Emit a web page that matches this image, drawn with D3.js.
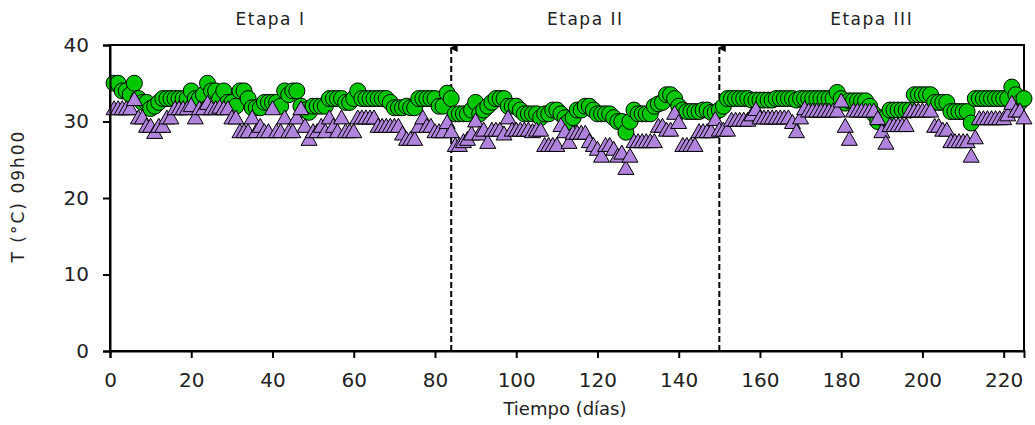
<!DOCTYPE html>
<html>
<head>
<meta charset="utf-8">
<script src="https://cdn.jsdelivr.net/npm/d3@7"></script>
<style>
  body { margin: 0; background: #fff; }
  svg text { fill: #222; }
</style>
</head>
<body>
<div class="chart"></div>
<script>
// temperatura a las 09h00, un valor por dia (dia 1 ... 225)
var serieVerde = [
  35, 35, 34, 34, 33.5, 35, 33, 32.5, 32.5, 31.7,
  32, 32.5, 33, 33, 33, 33, 33, 33, 33, 34,
  33, 33, 33.5, 35, 34, 34, 33, 34, 32.5, 32.5,
  32, 34, 34, 33, 31.8, 31.8, 31.8, 32.5, 32.5, 32.5,
  32.5, 32, 34, 33.5, 34, 34, 32, 31.5, 31.2, 32,
  32, 32, 32, 33, 33, 33, 33, 32.5, 32.5, 33,
  34, 33, 33, 33, 33, 33, 33, 33, 32.5, 31.8,
  31.8, 31.8, 32, 31.8, 31.8, 33, 33, 33, 33, 33,
  32, 32, 33.7, 33, 31, 31, 31, 31, 31.5, 32.5,
  31, 31.5, 32, 32.5, 33, 33, 33, 32, 32, 32,
  31.5, 31, 31, 31, 31, 30.5, 31, 31, 31.5, 31.5,
  31, 30.5, 30, 30.5, 31.5, 31.5, 32, 32, 31.5, 31,
  31, 31, 31, 30.5, 30, 30, 28.6, 30, 31.5, 31,
  31, 31, 31, 32, 32.3, 32.5, 33.5, 33.5, 33, 32,
  31.5, 31.3, 31.3, 31.3, 31.3, 31.5, 31.5, 31.2, 31.2, 31.5,
  32, 33, 33, 33, 33, 33, 33, 32.8, 32.8, 32.8,
  32.8, 32.8, 32.8, 33, 33, 33, 33, 33, 32.8, 33,
  33, 33, 33, 33, 33, 33, 33, 33, 33.8, 33,
  32.4, 32.7, 32.7, 32.7, 32.7, 32.7, 32, 31, 30, 30.5,
  30.5, 31.5, 31.5, 31.5, 31.5, 31.5, 31.5, 33.5, 33.5, 33.5,
  33.5, 33.5, 32.5, 32.5, 32.5, 32.5, 31.3, 31.3, 31.3, 31.3,
  31.3, 29.8, 33, 33, 33, 33, 33, 33, 33, 33,
  33, 34.5, 33.5, 32.5, 33
];

var serieMorada = [
  31.8, 31.8, 31.8, 31.8, 31.8, 33, 30.6, 30.6, 29.5, 29.5,
  28.7, 29.5, 29.5, 30.6, 30.6, 31.8, 31.8, 31.8, 31.8, 32.2,
  30.6, 31.8, 31.8, 32.5, 31.8, 31.8, 32, 31.8, 31.8, 30.6,
  30.6, 28.8, 28.8, 28.8, 30.6, 28.8, 29.5, 28.8, 28.8, 31.8,
  28.8, 28.8, 30.6, 28.8, 28.8, 30.6, 31.8, 29.5, 27.8, 28.8,
  28.8, 29.5, 28.8, 30.6, 29.5, 28.8, 30.6, 28.8, 28.8, 28.8,
  30.6, 30.6, 30.6, 30.6, 30.6, 29.5, 29.5, 29.5, 29.5, 29.5,
  29.5, 28.5, 27.8, 27.8, 27.8, 29.5, 30.6, 29.5, 29.5, 28.8,
  28.8, 28.8, 30, 28.8, 27, 27, 27.5, 27.8, 28.5, 30.2,
  28.5, 29, 27.4, 29, 29, 29, 28.5, 30.6, 29, 29,
  29, 29, 29, 28.8, 29, 29, 27, 27, 27, 27,
  29.6, 28.8, 27.4, 28.6, 28.6, 28.6, 28.6, 27.5, 27, 26.5,
  25.6, 27, 27, 26.5, 25.6, 26, 24, 25.6, 27.5, 27.5,
  27.5, 27.5, 27.5, 27.5, 29.5, 29.5, 29, 29, 31.2, 30,
  27, 27, 27, 27, 28.8, 28.8, 28.8, 28.8, 30.4, 29,
  29, 29, 30.3, 30.3, 30.3, 30.3, 30.3, 31, 31.7, 30.6,
  30.6, 30.6, 30.6, 30.6, 30.6, 30.6, 30.6, 30, 28.8, 30.6,
  31.8, 31.5, 31.5, 31.5, 31.5, 31.5, 31.5, 31.5, 31.5, 32.8,
  29.5, 27.8, 31.5, 31.5, 31.5, 31.5, 31.5, 31.5, 30.5, 28.8,
  27.3, 29.6, 29.6, 29.6, 29.6, 29.6, 31.5, 31.5, 31.5, 31.5,
  31.5, 31.5, 29.5, 29.5, 29, 29, 27.5, 27.5, 27.5, 27.5,
  27.5, 25.6, 28, 30.5, 30.5, 30.5, 30.5, 30.5, 30.5, 30.5,
  31, 32.5, 31.5, 31.5, 30.6
];

var primerDia = 1;
var xTicks = [0, 20, 40, 60, 80, 100, 120, 140, 160, 180, 200, 220];
var yTicks = [0, 10, 20, 30, 40];
var etapas = [
  {nombre: "Etapa I", desde: 0, hasta: 84},
  {nombre: "Etapa II", desde: 84, hasta: 150},
  {nombre: "Etapa III", desde: 150, hasta: 225}
];
var cortes = [84, 150];

var margin = {top: 45, right: 11, bottom: 74, left: 110};
var W = 1035, H = 425;
var width = W - margin.left - margin.right,
    height = H - margin.top - margin.bottom;

var x = d3.scaleLinear().domain([0, 225]).range([0, width]);
var y = d3.scaleLinear().domain([0, 40]).range([height, 0]);

var svg = d3.select(".chart").append("svg")
  .attr("width", W)
  .attr("height", H);

svg.append("defs").append("marker")
  .attr("id", "flecha")
  .attr("viewBox", "0 0 10 10")
  .attr("refX", 5).attr("refY", 2)
  .attr("markerWidth", 4).attr("markerHeight", 4)
  .attr("orient", "auto-start-reverse")
  .append("path")
  .attr("d", "M0,10 L5,0 L10,10 Z")
  .attr("fill", "#000");

var chart = svg.append("g")
  .attr("transform", "translate(" + margin.left + "," + margin.top + ")");

// marco del grafico
chart.append("rect")
  .attr("x", 0).attr("y", 0)
  .attr("width", width).attr("height", height)
  .attr("fill", "none")
  .attr("stroke", "#000")
  .attr("stroke-width", 2);

// lineas de division de etapas
chart.selectAll(".corte")
  .data(cortes)
  .enter().append("line")
  .attr("class", "corte")
  .attr("x1", function(d) { return x(d); })
  .attr("x2", function(d) { return x(d); })
  .attr("y1", height)
  .attr("y2", 3)
  .attr("stroke", "#000")
  .attr("stroke-width", 2)
  .attr("stroke-dasharray", "6,3")
  .attr("marker-end", "url(#flecha)");

chart.selectAll(".etapa")
  .data(etapas)
  .enter().append("text")
  .attr("class", "etapa")
  .attr("x", function(d, i) { return i == 0 ? x(39.5) : x((d.desde + d.hasta) / 2); })
  .attr("y", -20)
  .attr("text-anchor", "middle")
  .style("font-family", "'DejaVu Sans', sans-serif")
  .style("font-size", "17px")
  .style("letter-spacing", "1.5px")
  .text(function(d) { return d.nombre; });

// series
var verde = serieVerde.map(function(v, i) { return {dia: primerDia + i, valor: v}; });
var morada = serieMorada.map(function(v, i) { return {dia: primerDia + i, valor: v}; });

chart.selectAll(".circulo")
  .data(verde)
  .enter().append("circle")
  .attr("class", "circulo")
  .attr("cx", function(d) { return x(d.dia); })
  .attr("cy", function(d) { return y(d.valor); })
  .attr("r", 8)
  .attr("fill", "#00c800")
  .attr("stroke", "#000")
  .attr("stroke-width", 1);

var triangulo = "M0,-7L8,7L-8,7Z";
chart.selectAll(".triangulo")
  .data(morada)
  .enter().append("path")
  .attr("class", "triangulo")
  .attr("d", triangulo)
  .attr("transform", function(d) { return "translate(" + x(d.dia) + "," + y(d.valor) + ")"; })
  .attr("fill", "#b083dc")
  .attr("stroke", "#000")
  .attr("stroke-width", 1);

// ejes
var xAxis = chart.append("g")
  .attr("transform", "translate(0," + height + ")")
  .call(d3.axisBottom(x).tickValues(xTicks).tickSize(7).tickPadding(15));
var yAxis = chart.append("g")
  .call(d3.axisLeft(y).tickValues(yTicks).tickSize(7).tickPadding(14));

[xAxis, yAxis].forEach(function(a) {
  a.select(".domain").attr("stroke-width", 2);
  a.selectAll(".tick line").attr("stroke-width", 2);
  a.selectAll(".tick text")
    .style("font-family", "'DejaVu Sans', sans-serif")
    .style("font-size", "20px")
    .attr("fill", "#222");
});

chart.append("text")
  .attr("x", x(112))
  .attr("y", height + 64)
  .attr("text-anchor", "middle")
  .style("font-family", "'DejaVu Sans', sans-serif")
  .style("font-size", "18px")
  .text("Tiempo (días)");

chart.append("text")
  .attr("transform", "translate(" + (-86) + "," + (height / 2 - 2) + ") rotate(-90)")
  .attr("text-anchor", "middle")
  .style("font-family", "'DejaVu Sans', sans-serif")
  .style("font-size", "17px")
  .style("letter-spacing", "2px")
  .text("T (°C) 09h00");
</script>
</body>
</html>
